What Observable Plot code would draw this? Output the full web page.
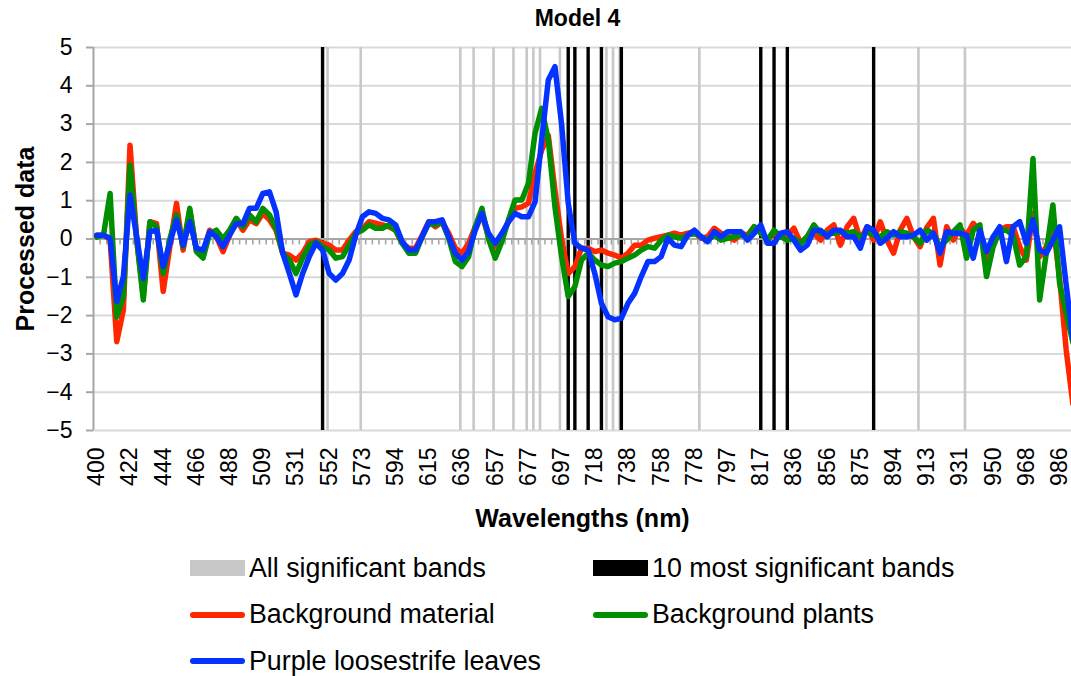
<!DOCTYPE html>
<html>
<head>
<meta charset="utf-8">
<script src="https://cdn.jsdelivr.net/npm/d3@7"></script>
<script src="https://cdn.jsdelivr.net/npm/@observablehq/plot@0.6"></script>
<style>
  html, body { margin: 0; padding: 0; background: #fff; overflow: hidden; }
  body { width: 1071px; height: 676px; font-family: "Liberation Sans", Arial, sans-serif; color: #000; }
  #title { height: 30px; line-height: 36px; box-sizing: border-box; padding-left: 84px; text-align: center; font-weight: bold; font-size: 23px; }
  #legend { display: grid; grid-template-columns: 403px 403px; grid-auto-rows: 46.5px; padding-top: 5px; margin-left: 190px; font-size: 26.8px; }
  .item { display: flex; align-items: center; white-space: nowrap; }
  .sw { display: inline-block; width: 55px; margin-right: 4px; }
</style>
</head>
<body>
<div id="title">Model 4</div>
<div id="chart"></div>
<div id="legend"></div>
<script>
// Wavelength tick labels (one every 5 bands)
const tickLabels = [400, 422, 444, 466, 488, 509, 531, 552, 573, 594, 615, 636, 657, 677, 697,
  718, 738, 758, 778, 797, 817, 836, 856, 875, 894, 913, 931, 950, 968, 986];
const bandsPerLabel = 5;

// Processed data per band index
const backgroundMaterial = [0.1, 0.1, 0.0, -2.68, -1.85, 2.45, 0.0, -1.5, 0.45, 0.4,
  -1.37, -0.2, 0.93, -0.29, 0.75, -0.3, -0.37, 0.23, 0.06, -0.33,
  0.1, 0.5, 0.23, 0.5, 0.4, 0.67, 0.5, 0.23, -0.37, -0.42,
  -0.55, -0.37, -0.07, -0.03, -0.11, -0.16, -0.29, -0.29, -0.03, 0.19,
  0.28, 0.45, 0.41, 0.37, 0.32, 0.23, -0.11, -0.24, -0.24, 0.1,
  0.45, 0.32, 0.45, 0.15, -0.24, -0.37, -0.11, 0.32, 0.63, 0.06,
  -0.2, 0.1, 0.45, 0.8, 0.84, 0.93, 1.71, 2.32, 2.7, 1.28,
  0.0, -0.9, -0.72, -0.24, -0.24, -0.33, -0.29, -0.37, -0.42, -0.5,
  -0.37, -0.16, -0.16, -0.03, 0.02, 0.06, 0.1, 0.15, 0.1, 0.15,
  0.19, 0.02, 0.06, 0.28, 0.15, 0.06, -0.03, 0.15, 0.1, 0.32,
  0.23, -0.03, 0.15, 0.06, 0.1, 0.28, -0.11, 0.06, 0.15, -0.03,
  0.23, 0.37, -0.16, 0.32, 0.54, -0.03, 0.32, -0.03, 0.45, -0.03,
  -0.37, 0.23, 0.54, 0.06, -0.2, 0.3, 0.54, -0.68, 0.32, -0.03,
  0.28, 0.1, 0.41, 0.2, -0.6, -0.1, 0.25, 0.32, 0.32, -0.2,
  -0.55, 0.67, -0.46, -0.2, 0.4, -1.0, -2.9, -4.3];
const backgroundPlants = [0.05, 0.1, 1.19, -2.03, -1.5, 1.93, 0.0, -1.59, 0.45, 0.32,
  -0.9, 0.0, 0.63, -0.2, 0.8, -0.33, -0.5, 0.15, 0.23, 0.0,
  0.23, 0.54, 0.32, 0.63, 0.45, 0.8, 0.63, 0.28, -0.37, -0.55,
  -0.9, -0.5, -0.16, -0.07, -0.2, -0.29, -0.5, -0.46, -0.16, 0.15,
  0.23, 0.37, 0.28, 0.28, 0.37, 0.23, -0.11, -0.37, -0.37, 0.06,
  0.41, 0.37, 0.45, 0.02, -0.59, -0.72, -0.46, 0.32, 0.8, 0.0,
  -0.5, -0.07, 0.5, 1.02, 1.02, 1.45, 2.76, 3.41, 2.58, 0.84,
  -0.46, -1.5, -1.24, -0.55, -0.37, -0.55, -0.68, -0.72, -0.63, -0.59,
  -0.5, -0.42, -0.29, -0.2, -0.24, -0.03, 0.1, 0.06, 0.02, 0.1,
  0.15, 0.06, -0.03, 0.1, -0.03, 0.02, 0.06, 0.1, 0.06, 0.32,
  0.15, -0.03, 0.23, 0.06, -0.03, 0.02, -0.11, 0.06, 0.37, 0.15,
  0.15, 0.15, 0.19, 0.15, 0.19, 0.06, 0.19, 0.1, 0.06, 0.19,
  0.1, 0.19, 0.15, 0.06, -0.11, 0.23, 0.15, -0.2, -0.03, 0.19,
  0.37, -0.5, 0.23, 0.37, -0.98, -0.2, 0.23, 0.23, 0.1, -0.68,
  -0.46, 2.1, -1.59, -0.37, 0.89, -1.15, -1.94, -2.7];
const purpleLoosestrife = [0.1, 0.1, 0.02, -1.63, -0.98, 1.15, 0.06, -1.03, 0.19, 0.23,
  -0.72, -0.11, 0.5, -0.16, 0.45, -0.24, -0.29, 0.19, 0.06, -0.2,
  0.1, 0.4, 0.4, 0.8, 0.8, 1.19, 1.23, 0.71, -0.37, -0.9,
  -1.46, -0.9, -0.46, -0.11, -0.29, -0.9, -1.07, -0.9, -0.55, 0.1,
  0.58, 0.71, 0.67, 0.54, 0.5, 0.37, -0.07, -0.29, -0.29, 0.06,
  0.45, 0.45, 0.5, 0.06, -0.37, -0.55, -0.33, 0.23, 0.67, 0.15,
  -0.11, 0.15, 0.45, 0.67, 0.58, 0.58, 0.97, 2.58, 4.15, 4.5,
  3.0, 0.93, -0.11, -0.24, -0.29, -0.9, -1.68, -2.03, -2.11, -2.07,
  -1.68, -1.42, -0.98, -0.59, -0.59, -0.46, 0.02, -0.16, -0.2, 0.1,
  0.23, 0.06, -0.07, 0.19, 0.06, 0.19, 0.19, 0.19, -0.03, 0.15,
  0.37, -0.11, -0.11, 0.15, 0.19, -0.03, -0.29, -0.16, 0.23, 0.23,
  0.06, 0.23, 0.23, 0.06, 0.06, -0.24, 0.32, 0.23, -0.11, 0.02,
  0.19, 0.06, 0.06, 0.1, 0.23, -0.03, 0.15, -0.37, 0.19, 0.15,
  0.15, 0.1, -0.5, 0.23, -0.33, 0.06, 0.32, -0.59, 0.32, 0.45,
  -0.11, 0.5, -0.29, -0.37, -0.03, 0.32, -1.2, -2.6];

// Significant band indices
const allSignificantBands = [34, 39, 54, 56, 59, 62, 64, 65, 66, 69, 76, 77, 78, 90, 123, 130];
const topTenBands = [34, 71, 72, 74, 76, 79, 100, 102, 104, 117];

const yTicks = [-5, -4, -3, -2, -1, 0, 1, 2, 3, 4, 5];

const seriesNames = ["Background material", "Background plants", "Purple loosestrife leaves"];
const seriesColors = ["#ff2600", "#008f00", "#0433ff"];
const seriesValues = [backgroundMaterial, backgroundPlants, purpleLoosestrife];

const bandNames = ["All significant bands", "10 most significant bands"];
const bandColors = ["#c8c8c8", "#000000"];

// ---- build ----
const W = 1071, H = 510, mTop = 17, mBottom = 110, mLeft = 93;
const plotH = H - mTop - mBottom;
const yPerPx = (yTicks[yTicks.length - 1] - yTicks[0]) / plotH;
const idx = d3.range(backgroundMaterial.length);
const boundaries = idx.map(i => i + 0.5);
const tickIdx = tickLabels.map((_, k) => k * bandsPerLabel);

const lineMarks = seriesValues.map((vals, s) =>
  Plot.line(idx, {x: i => i, y: i => vals[i], stroke: seriesColors[s], strokeWidth: 5.5,
    strokeLinejoin: "round", strokeLinecap: "round", clip: true}));

const chart = Plot.plot({
  width: W, height: H,
  marginLeft: mLeft, marginRight: 0, marginTop: mTop, marginBottom: mBottom,
  style: {fontFamily: "'Liberation Sans', Arial, sans-serif", fontSize: "23px", color: "#000", background: "#fff", overflow: "hidden"},
  x: {type: "linear", domain: [-0.5, 146.8]},
  y: {domain: [yTicks[0], yTicks[yTicks.length - 1]]},
  marks: [
    Plot.ruleY(yTicks, {stroke: "#d9d9d9", strokeWidth: 2}),
    Plot.ruleX(allSignificantBands, {x: d => d + 0.75, stroke: bandColors[0], strokeWidth: 2.6}),
    Plot.ruleX(topTenBands, {x: d => d, stroke: bandColors[1], strokeWidth: 3.4}),
    Plot.ruleX([-0.5], {stroke: "#a6a6a6", strokeWidth: 2}),
    Plot.ruleY([0], {stroke: "#a6a6a6", strokeWidth: 2}),
    Plot.ruleX(boundaries, {x: d => d, y1: 0, y2: -6 * yPerPx, stroke: "#a6a6a6", strokeWidth: 1.6, clip: true}),
    ...lineMarks,
    Plot.axisY({ticks: yTicks, tickSize: 7, tickPadding: 14, stroke: "#a6a6a6", strokeWidth: 2, label: null, fontSize: 23}),
    Plot.axisX({ticks: tickIdx, tickFormat: d => String(tickLabels[d / bandsPerLabel]), tickRotate: -90,
      tickSize: 0, tickPadding: 17, label: null, fontSize: 23}),
    Plot.text(["Processed data"], {frameAnchor: "left", textAnchor: "middle", rotate: -90, dx: -68, fontWeight: "bold", fontSize: 25}),
    Plot.text(["Wavelengths (nm)"], {frameAnchor: "bottom", textAnchor: "middle", dy: 96, fontWeight: "bold", fontSize: 25})
  ]
});
document.getElementById("chart").appendChild(chart);

// legend
const legend = d3.select("#legend");
const entries = [
  ...bandNames.map((n, k) => ({name: n, color: bandColors[k], kind: "bar"})),
  ...seriesNames.map((n, k) => ({name: n, color: seriesColors[k], kind: "line"}))
];
entries.forEach(e => {
  const it = legend.append("div").attr("class", "item");
  it.append("span").attr("class", "sw")
    .style("height", e.kind === "bar" ? "16px" : "6px")
    .style("border-radius", e.kind === "bar" ? "0" : "3px")
    .style("background", e.color);
  it.append("span").text(e.name);
});
</script>
</body>
</html>
